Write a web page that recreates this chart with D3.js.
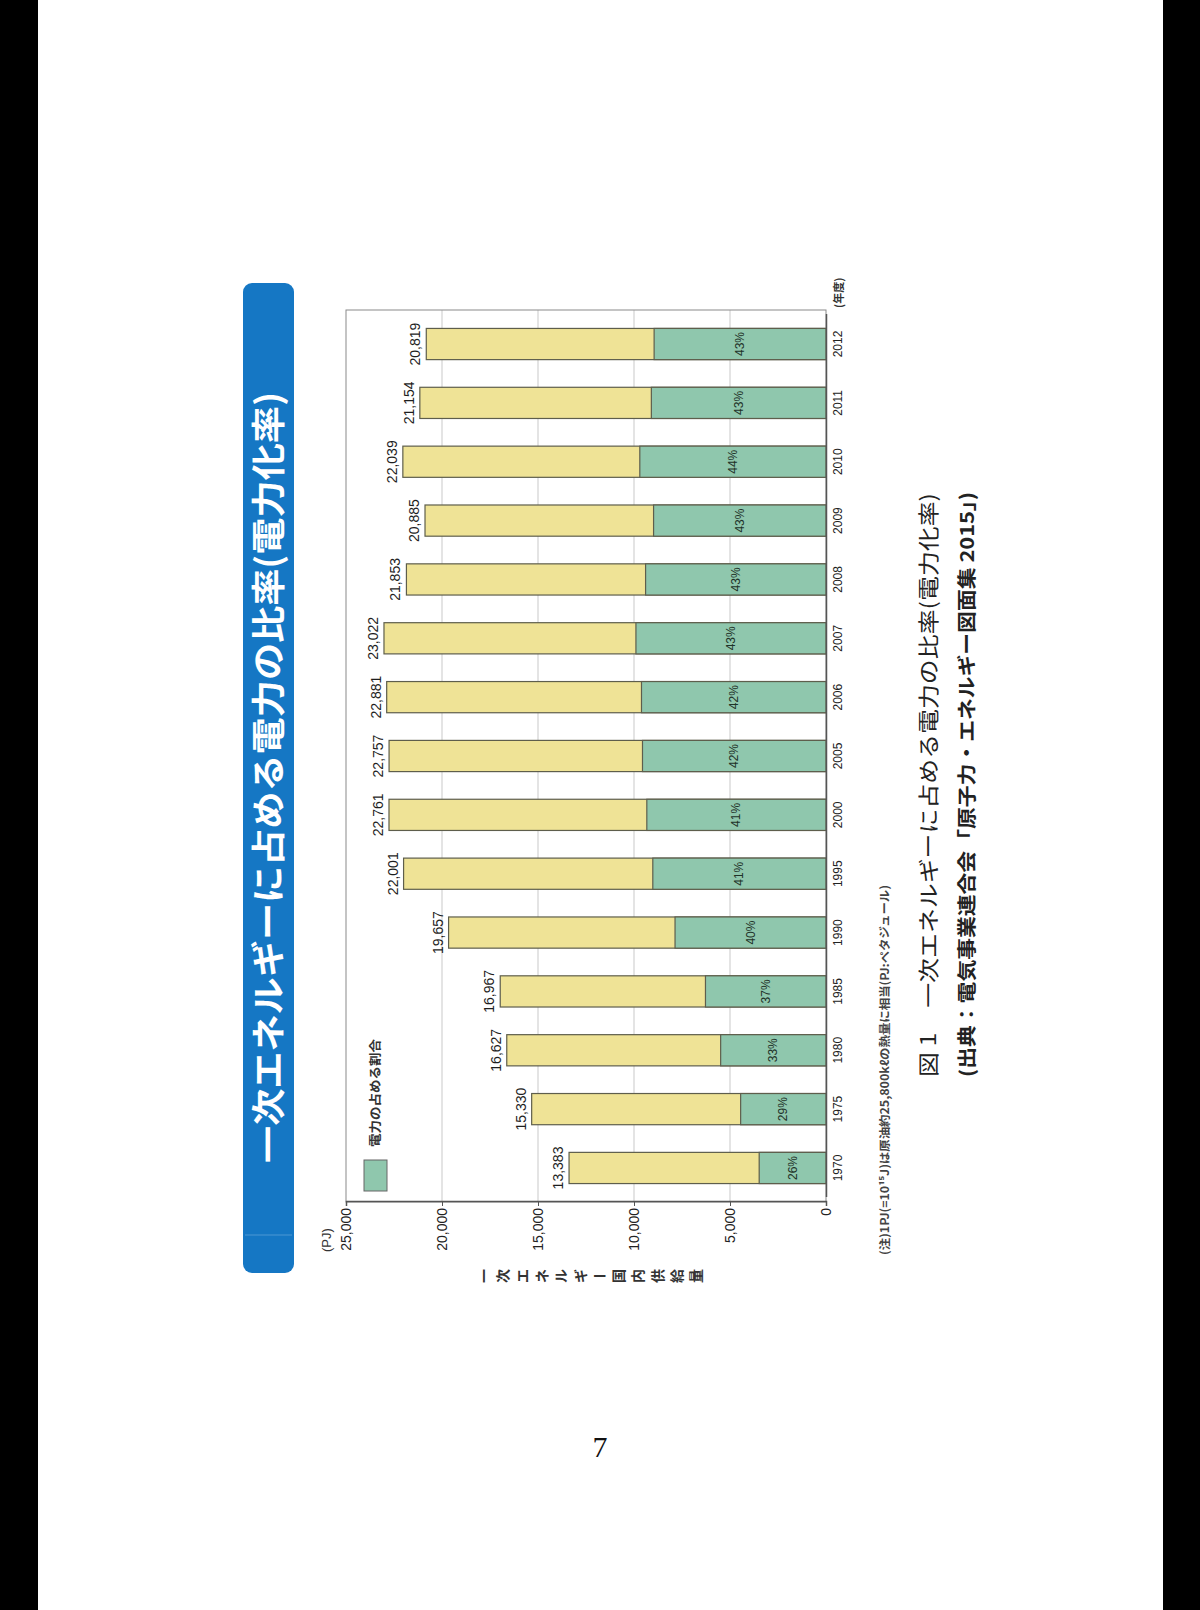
<!DOCTYPE html>
<html>
<head>
<meta charset="utf-8">
<script src="https://cdn.jsdelivr.net/npm/d3@7"></script>
<style>
  html, body { margin: 0; padding: 0; background: #fff; }
  svg { display: block; }
</style>
</head>
<body>
<svg id="chart" width="1200" height="1610"></svg>
<script>
// ---- data ----
const years = ["1970","1975","1980","1985","1990","1995","2000","2005","2006","2007","2008","2009","2010","2011","2012"];
const totals = [13383,15330,16627,16967,19657,22001,22761,22757,22881,23022,21853,20885,22039,21154,20819];
const shares = [26,29,33,37,40,41,41,42,42,43,43,43,44,43,43];
const valueTicks = [0,5000,10000,15000,20000,25000];
const titleText = "一次エネルギーに占める電力の比率(電力化率)";
const legendLabel = "電力の占める割合";
const axisTitleChars = ["一","次","エ","ネ","ル","ギ","ー","国","内","供","給","量"];
const unitLabel = "(PJ)";
const yearUnit = "(年度)";
const noteText = "(注)1PJ(=10¹⁵J)は原油約25,800kℓの熱量に相当(PJ:ペタジュール)";
const captionText = "図 1　一次エネルギーに占める電力の比率(電力化率)";
const sourceText = "(出典：電気事業連合会「原子力・エネルギー図面集 2015」)";
const pageNumber = "7";

const JP = "'Noto Sans CJK JP', 'Noto Sans', sans-serif";
const SANS = "'Liberation Sans', Arial, 'DejaVu Sans', sans-serif";
const YELLOW = "#efe396", GREEN = "#8fc7ad", BAR_STROKE = "#5e5e4c";

const svg = d3.select("#chart");

// page black side bands
svg.append("rect").attr("x", 0).attr("y", 0).attr("width", 38).attr("height", 1610).attr("fill", "#000");
svg.append("rect").attr("x", 1163).attr("y", 0).attr("width", 37).attr("height", 1610).attr("fill", "#000");

// everything on the page is rotated 90° counter-clockwise
// unrotated (u,v) -> page (x = v, y = 1610 - u)
const g = svg.append("g").attr("transform", "translate(0,1610) rotate(-90)");

// ---- banner ----
g.append("rect").attr("x", 337).attr("y", 243).attr("width", 990).attr("height", 51)
  .attr("rx", 9).attr("fill", "#1577c4");
g.append("line").attr("x1", 375).attr("x2", 375).attr("y1", 245).attr("y2", 292)
  .attr("stroke", "#4d98d3").attr("stroke-width", 1);
g.append("text").attr("x", 447).attr("y", 281)
  .attr("textLength", 771).attr("lengthAdjust", "spacingAndGlyphs")
  .attr("font-family", JP).attr("font-weight", 700).attr("font-size", 34)
  .attr("fill", "#fff").text(titleText);

// ---- scales ----
const band = d3.scaleBand().domain(years).range([412.6, 1295.4]).paddingInner(0.47).paddingOuter(0.235);
const val = d3.scaleLinear().domain([0, 25000]).range([826, 346]);

const frame = { u0: 408, u1: 1300, v0: 346, v1: 826 };

// grid lines
g.append("g").selectAll("line").data(valueTicks.filter(t => t > 0 && t < 25000)).join("line")
  .attr("x1", frame.u0).attr("x2", frame.u1)
  .attr("y1", d => val(d)).attr("y2", d => val(d))
  .attr("stroke", "#c9c9c9").attr("stroke-width", 1);

// frame
g.append("rect").attr("x", frame.u0).attr("y", frame.v0)
  .attr("width", frame.u1 - frame.u0).attr("height", frame.v1 - frame.v0)
  .attr("fill", "none").attr("stroke", "#8a8a8a").attr("stroke-width", 1);

// bars
const data = years.map((y, i) => ({ year: y, total: totals[i], share: shares[i], elec: totals[i] * shares[i] / 100 }));
const bars = g.append("g");
bars.selectAll("rect.tot").data(data).join("rect").attr("class", "tot")
  .attr("x", d => band(d.year)).attr("width", band.bandwidth())
  .attr("y", d => val(d.total)).attr("height", d => val(0) - val(d.total))
  .attr("fill", YELLOW).attr("stroke", BAR_STROKE).attr("stroke-width", 1.2);
bars.selectAll("rect.el").data(data).join("rect").attr("class", "el")
  .attr("x", d => band(d.year)).attr("width", band.bandwidth())
  .attr("y", d => val(d.elec)).attr("height", d => val(0) - val(d.elec))
  .attr("fill", GREEN).attr("stroke", BAR_STROKE).attr("stroke-width", 1.2);

// total labels
bars.selectAll("text.tl").data(data).join("text").attr("class", "tl")
  .attr("x", d => band(d.year) + band.bandwidth() / 2)
  .attr("y", d => val(d.total) - 6)
  .attr("text-anchor", "middle").attr("font-family", SANS).attr("font-size", 14)
  .attr("fill", "#1e1e1e").text(d => d3.format(",")(d.total));

// share labels
bars.selectAll("text.pl").data(data).join("text").attr("class", "pl")
  .attr("x", d => band(d.year) + band.bandwidth() / 2)
  .attr("y", d => (val(0) + val(d.elec)) / 2 + 4)
  .attr("text-anchor", "middle").attr("font-family", SANS).attr("font-size", 12)
  .attr("fill", "#1f3329").text(d => d.share + "%");

// value axis
const yAxis = g.append("g").attr("transform", `translate(${frame.u0},0)`)
  .call(d3.axisLeft(val).tickValues(valueTicks).tickFormat(d3.format(",")).tickSize(4).tickPadding(2));
yAxis.select(".domain").attr("stroke", "#555").attr("stroke-width", 1.5);
yAxis.selectAll(".tick line").attr("stroke", "#555");
yAxis.selectAll("text").attr("font-family", SANS).attr("font-size", 14).attr("fill", "#222");

// category axis
const xAxis = g.append("g").attr("transform", `translate(0,${frame.v1})`)
  .call(d3.axisBottom(band).tickSize(0).tickPadding(7));
xAxis.select(".domain").attr("stroke", "#555").attr("stroke-width", 1.5);
xAxis.selectAll("text").attr("font-family", SANS).attr("font-size", 12).attr("fill", "#222");

// (年度)
g.append("text").attr("x", 1302).attr("y", 843).attr("font-family", JP).attr("font-size", 11)
  .attr("font-weight", 700).attr("fill", "#333").text(yearUnit);

// (PJ)
g.append("text").attr("x", 358).attr("y", 331).attr("font-family", SANS).attr("font-size", 13)
  .attr("fill", "#333").text(unitLabel);

// axis title stacked vertically
const at = g.append("g");
axisTitleChars.forEach((c, i) => {
  const cv = 484 + i * 19.3;
  const t = at.append("text").attr("x", 334).attr("y", cv + 5)
    .attr("text-anchor", "middle").attr("font-family", JP).attr("font-weight", 700)
    .attr("font-size", 14).attr("fill", "#333").text(c);
  if (c === "ー") t.attr("transform", `rotate(90,334,${cv})`).attr("y", cv + 5);
});

// legend
g.append("rect").attr("x", 419).attr("y", 364).attr("width", 31).attr("height", 23)
  .attr("fill", GREEN).attr("stroke", "#666").attr("stroke-width", 1);
g.append("text").attr("x", 463).attr("y", 379.5)
  .attr("textLength", 108).attr("lengthAdjust", "spacingAndGlyphs")
  .attr("font-family", JP).attr("font-size", 12.5).attr("font-weight", 700)
  .attr("fill", "#333").text(legendLabel);

// footnote
g.append("text").attr("x", 355).attr("y", 889)
  .attr("textLength", 370).attr("lengthAdjust", "spacingAndGlyphs")
  .attr("font-family", JP).attr("font-size", 11.5).attr("font-weight", 700)
  .attr("fill", "#444").text(noteText);

// caption + source
g.append("text").attr("x", 533).attr("y", 936)
  .attr("textLength", 584).attr("lengthAdjust", "spacingAndGlyphs")
  .attr("font-family", JP).attr("font-size", 21)
  .attr("fill", "#222").text(captionText);
g.append("text").attr("x", 533).attr("y", 974)
  .attr("textLength", 585).attr("lengthAdjust", "spacingAndGlyphs")
  .attr("font-family", JP).attr("font-size", 19).attr("font-weight", 700)
  .attr("fill", "#222").text(sourceText);

// page number (upright)
svg.append("text").attr("x", 600).attr("y", 1457).attr("text-anchor", "middle")
  .attr("font-family", "'Liberation Serif', 'DejaVu Serif', serif").attr("font-size", 30)
  .attr("fill", "#111").text(pageNumber);
</script>
</body>
</html>
